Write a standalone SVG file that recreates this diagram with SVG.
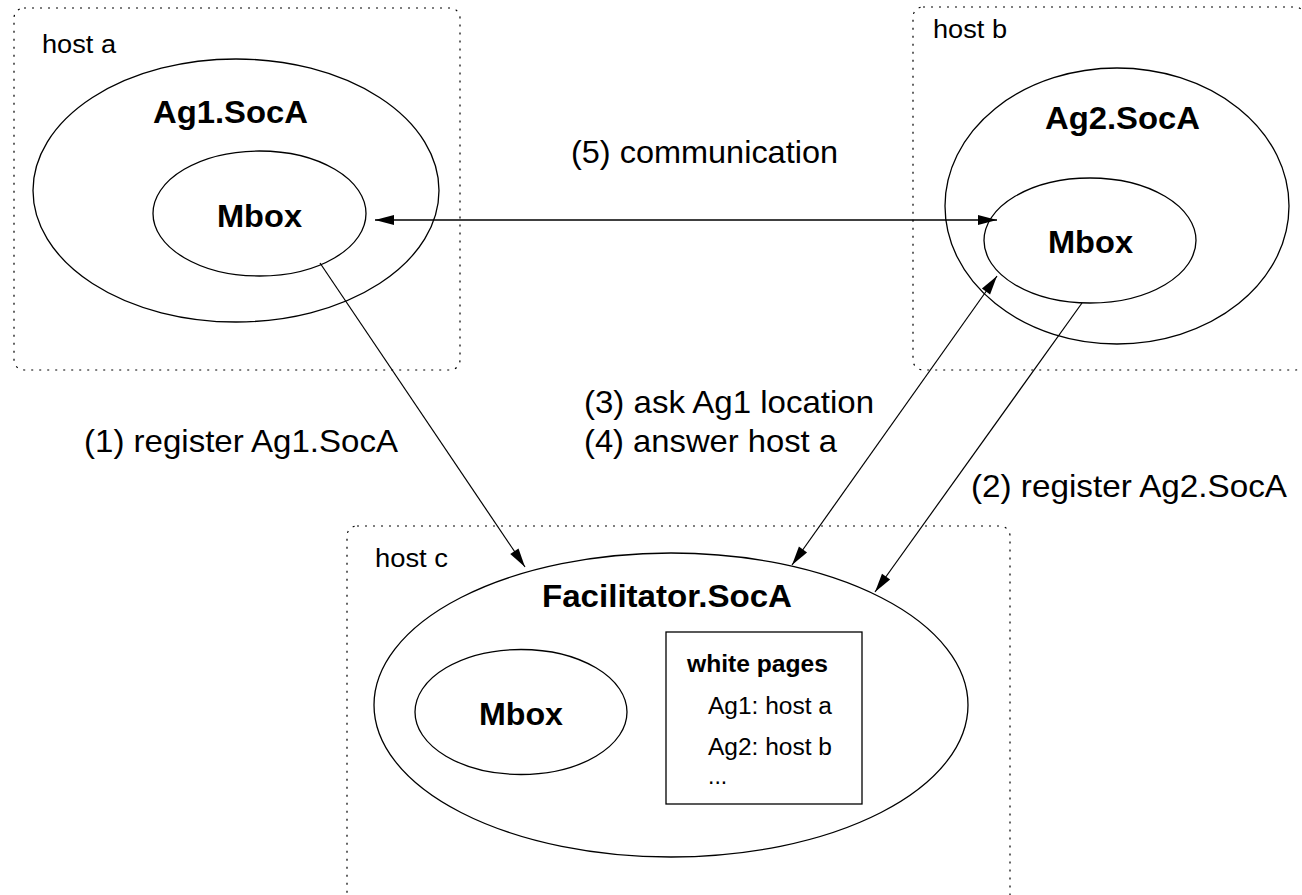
<svg xmlns="http://www.w3.org/2000/svg" width="1302" height="895" viewBox="0 0 1302 895">
  <defs>
    <marker id="head" markerUnits="userSpaceOnUse" markerWidth="20" markerHeight="10" refX="19" refY="5" orient="auto-start-reverse" overflow="visible">
      <path d="M0,0 L19,5 L0,10 Z" fill="#000"/>
    </marker>
    <style>
      .host { fill: none; stroke: #000; stroke-width: 1.2; stroke-dasharray: 2 6; }
      .shape { fill: none; stroke: #000; stroke-width: 1.3; }
      .link { fill: none; stroke: #000; stroke-width: 1.2; }
      .wide { stroke-width: 1.7; }
      .big { font-family: "Liberation Sans", Arial, sans-serif; font-weight: bold; font-size: 32px; fill: #000; }
      .label { font-family: "Liberation Sans", Arial, sans-serif; font-size: 32px; fill: #000; }
      .hostname { font-family: "Liberation Sans", Arial, sans-serif; font-size: 26px; fill: #000; }
      .small { font-family: "Liberation Sans", Arial, sans-serif; font-size: 23px; fill: #000; }
      .smallb { font-family: "Liberation Sans", Arial, sans-serif; font-weight: bold; font-size: 23px; fill: #000; }
    </style>
  </defs>

  <rect width="1302" height="895" fill="#fff"/>

  <!-- host a -->
  <g id="host-a">
    <rect class="host" x="14" y="8" width="446" height="362" rx="10"/>
    <text class="hostname" x="42" y="53" textLength="74" lengthAdjust="spacingAndGlyphs">host a</text>
  </g>

  <!-- host b -->
  <g id="host-b">
    <rect class="host" x="913" y="7" width="392" height="363" rx="10"/>
    <text class="hostname" x="933" y="38" textLength="74" lengthAdjust="spacingAndGlyphs">host b</text>
  </g>

  <!-- host c -->
  <g id="host-c">
    <rect class="host" x="347" y="526" width="663" height="380" rx="10"/>
    <text class="hostname" x="375" y="567" textLength="73" lengthAdjust="spacingAndGlyphs">host c</text>
  </g>

  <!-- agent 1 on host a -->
  <g id="ag1">
    <ellipse class="shape" cx="236" cy="190.5" rx="203" ry="131.5"/>
    <text class="big" x="153" y="123" textLength="155" lengthAdjust="spacingAndGlyphs">Ag1.SocA</text>
  </g>
  <g id="ag1-mbox">
    <ellipse class="shape" cx="259.5" cy="213.5" rx="106.5" ry="62.5"/>
    <text class="big" x="217" y="227" textLength="85" lengthAdjust="spacingAndGlyphs">Mbox</text>
  </g>

  <!-- agent 2 on host b -->
  <g id="ag2">
    <ellipse class="shape" cx="1117" cy="206" rx="172" ry="138"/>
    <text class="big" x="1045" y="129" textLength="155" lengthAdjust="spacingAndGlyphs">Ag2.SocA</text>
  </g>
  <g id="ag2-mbox">
    <ellipse class="shape" cx="1090" cy="240.5" rx="106" ry="62.5"/>
    <text class="big" x="1048" y="252.5" textLength="85" lengthAdjust="spacingAndGlyphs">Mbox</text>
  </g>

  <!-- facilitator on host c -->
  <g id="facilitator">
    <ellipse class="shape" cx="671" cy="705" rx="297" ry="152"/>
    <text class="big" x="542" y="607" textLength="250" lengthAdjust="spacingAndGlyphs">Facilitator.SocA</text>
  </g>
  <g id="facilitator-mbox">
    <ellipse class="shape" cx="521" cy="712" rx="106" ry="62.5"/>
    <text class="big" x="479" y="725" textLength="84" lengthAdjust="spacingAndGlyphs">Mbox</text>
  </g>
  <g id="white-pages">
    <rect class="shape" x="666" y="632" width="196" height="172"/>
    <text class="smallb" x="687" y="672" textLength="141" lengthAdjust="spacingAndGlyphs">white pages</text>
    <text class="small" x="708" y="714" textLength="124" lengthAdjust="spacingAndGlyphs">Ag1: host a</text>
    <text class="small" x="708" y="754.5" textLength="124" lengthAdjust="spacingAndGlyphs">Ag2: host b</text>
    <text class="small" x="708" y="784">...</text>
  </g>

  <!-- message flows -->
  <g id="connectors">
    <line class="link wide" x1="375" y1="220" x2="997" y2="220" marker-start="url(#head)" marker-end="url(#head)"/>
    <line class="link" x1="320" y1="263" x2="525" y2="567" marker-end="url(#head)"/>
    <line class="link" x1="997" y1="276" x2="792" y2="565" marker-start="url(#head)" marker-end="url(#head)"/>
    <line class="link" x1="1082" y1="303" x2="875" y2="592" marker-end="url(#head)"/>
  </g>

  <!-- flow labels -->
  <g id="labels">
    <text class="label" x="571" y="163" textLength="267" lengthAdjust="spacingAndGlyphs">(5) communication</text>
    <text class="label" x="84" y="452" textLength="314" lengthAdjust="spacingAndGlyphs">(1) register Ag1.SocA</text>
    <text class="label" x="584" y="413" textLength="290" lengthAdjust="spacingAndGlyphs">(3) ask Ag1 location</text>
    <text class="label" x="584" y="452" textLength="253" lengthAdjust="spacingAndGlyphs">(4) answer host a</text>
    <text class="label" x="971" y="497" textLength="316" lengthAdjust="spacingAndGlyphs">(2) register Ag2.SocA</text>
  </g>
</svg>
